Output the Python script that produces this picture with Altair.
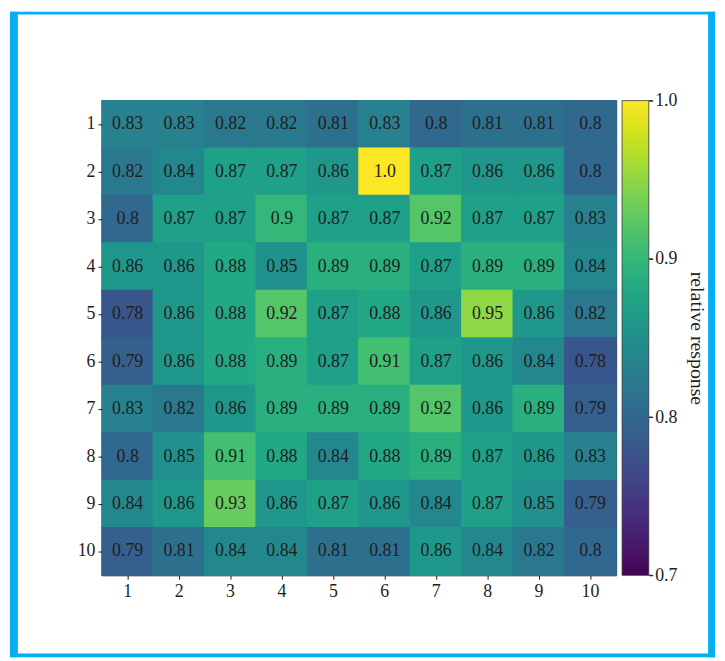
import altair as alt
import pandas as pd

rows = [1, 2, 3, 4, 5, 6, 7, 8, 9, 10]
cols = [1, 2, 3, 4, 5, 6, 7, 8, 9, 10]
values = [
    [0.83, 0.83, 0.82, 0.82, 0.81, 0.83, 0.8, 0.81, 0.81, 0.8],
    [0.82, 0.84, 0.87, 0.87, 0.86, 1.0, 0.87, 0.86, 0.86, 0.8],
    [0.8, 0.87, 0.87, 0.9, 0.87, 0.87, 0.92, 0.87, 0.87, 0.83],
    [0.86, 0.86, 0.88, 0.85, 0.89, 0.89, 0.87, 0.89, 0.89, 0.84],
    [0.78, 0.86, 0.88, 0.92, 0.87, 0.88, 0.86, 0.95, 0.86, 0.82],
    [0.79, 0.86, 0.88, 0.89, 0.87, 0.91, 0.87, 0.86, 0.84, 0.78],
    [0.83, 0.82, 0.86, 0.89, 0.89, 0.89, 0.92, 0.86, 0.89, 0.79],
    [0.8, 0.85, 0.91, 0.88, 0.84, 0.88, 0.89, 0.87, 0.86, 0.83],
    [0.84, 0.86, 0.93, 0.86, 0.87, 0.86, 0.84, 0.87, 0.85, 0.79],
    [0.79, 0.81, 0.84, 0.84, 0.81, 0.81, 0.86, 0.84, 0.82, 0.8],
]
legend_ticks = [0.7, 0.8, 0.9, 1.0]

records = []
for i, r in enumerate(rows):
    for j, c in enumerate(cols):
        v = values[i][j]
        records.append({"row": r, "col": c, "value": v, "label": str(v)})
df = pd.DataFrame(records)
ticks_df = pd.DataFrame({"t": legend_ticks})

FONT = "Liberation Serif"
INK = "#1e1e1e"
FRAME = "#04aef0"
W, H = 520, 480

axis_common = dict(
    title=None, labelAngle=0, labelFont=FONT, labelFontSize=18, labelColor=INK,
    domain=False, ticks=True, tickColor=INK, tickSize=4, tickWidth=1, labelPadding=3,
)
x = alt.X("col:O", sort=cols, scale=alt.Scale(paddingInner=0, paddingOuter=0),
          axis=alt.Axis(orient="bottom", **axis_common))
y = alt.Y("row:O", sort=rows, scale=alt.Scale(paddingInner=0, paddingOuter=0),
          axis=alt.Axis(orient="left", **axis_common))

base = alt.Chart(df)
heat = base.mark_rect(
    width=alt.RelativeBandSize(1.03), height=alt.RelativeBandSize(1.03)
).encode(
    x=x, y=y,
    color=alt.Color(
        "value:Q",
        scale=alt.Scale(scheme="viridis", domain=[0.7, 1.0]),
        legend=alt.Legend(
            orient="none", legendX=526, legendY=0, direction="vertical",
            gradientLength=H, gradientThickness=27,
            values=legend_ticks, labelExpr="''", title=None,
            gradientStrokeColor="#333", gradientStrokeWidth=0.8,
        ),
    ),
)
text = base.mark_text(font=FONT, fontSize=18, color=INK).encode(
    x=x, y=y, text="label:N"
)
grid = alt.layer(heat, text)

# colour-bar scale: ticks, labels and title on the right edge of the bar
cbar_axis = alt.Chart(ticks_df).mark_rule(color=INK, strokeWidth=1).encode(
    y=alt.Y(
        "t:Q",
        scale=alt.Scale(domain=[0.7, 1.0], nice=False, zero=False),
        axis=alt.Axis(
            orient="right", offset=33, values=legend_ticks, format=".1f",
            domain=False, ticks=True, tickSize=4, tickColor=INK, tickWidth=1,
            labelPadding=2, labelFont=FONT, labelFontSize=18, labelColor=INK,
            labelBaseline="middle", labelFlush=False, labelOverlap=False,
            title="relative response", titleFont=FONT, titleFontSize=20,
            titleFontWeight="normal", titleColor=INK, titleAngle=90,
            titlePadding=10,
        ),
    ),
    x=alt.value(553), x2=alt.value(557),
)

fd = alt.Data(values=[{"k": 1}])
frame_left = alt.Chart(fd).mark_rule(color=FRAME, strokeWidth=8).encode(
    x=alt.value(-89), y=alt.value(-90), y2=alt.value(563))
frame_right = alt.Chart(fd).mark_rule(color=FRAME, strokeWidth=7).encode(
    x=alt.value(616.5), y=alt.value(-90), y2=alt.value(563))
frame_top = alt.Chart(fd).mark_rule(color=FRAME, strokeWidth=3).encode(
    y=alt.value(-88.5), x=alt.value(-93), x2=alt.value(620))
frame_bottom = alt.Chart(fd).mark_rule(color=FRAME, strokeWidth=4).encode(
    y=alt.value(561), x=alt.value(-93), x2=alt.value(620))

chart = alt.layer(
    grid, cbar_axis, frame_left, frame_right, frame_top, frame_bottom
).resolve_scale(y="independent").properties(
    width=W, height=H,
    autosize=alt.AutoSizeParams(type="none"),
    padding={"left": 95, "top": 90, "right": 102, "bottom": 83},
    background="white",
).configure_view(stroke=INK, strokeWidth=1)

chart.save("out.html", embed_options={"renderer": "svg", "actions": False})
